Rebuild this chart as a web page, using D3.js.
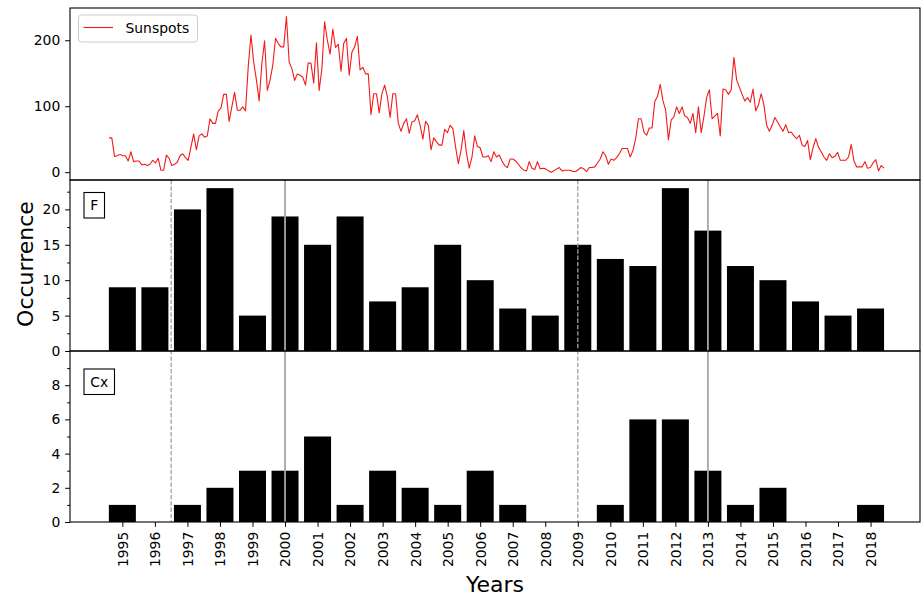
<!DOCTYPE html>
<html>
<head>
<meta charset="utf-8">
<script src="https://cdn.jsdelivr.net/npm/d3@7"></script>
<style>
  html, body { margin: 0; padding: 0; background: #fff; }
  svg { display: block; font-family: "DejaVu Sans", sans-serif; }
</style>
</head>
<body>
<script>
// ---------------- DATA ----------------
const years = [1995,1996,1997,1998,1999,2000,2001,2002,2003,2004,2005,2006,
               2007,2008,2009,2010,2011,2012,2013,2014,2015,2016,2017,2018];
const fCounts  = [9,9,20,23,5,19,15,19,7,9,15,10,6,5,15,13,12,23,17,12,10,7,5,6];
const cxCounts = [1,0,1,2,3,3,5,1,3,2,1,3,1,0,0,1,6,6,3,1,2,0,0,1];

// monthly sunspot number, first value = Feb 1995
const sunspotStartYear = 1995;
const sunspotStartMonth = 2;
const sunspots = [
  52,52,24,25,27,25,25,17,31,16,17,17,11,12,10,12,18,14,21,3,
  3,26,21,10,12,15,25,28,22,18,38,58,34,55,58,53,55,81,74,74,
  93,97,118,118,77,99,121,94,94,99,93,160,208,
  167,140,108,165,199,124,140,162,203,195,190,190,
  236,167,157,139,149,147,144,132,166,165,135,196,124,157,228,
  200,179,217,189,194,153,195,203,147,182,190,206,155,159,149,
  149,87,119,119,90,119,132,114,83,119,119,74,62,74,81,59,76,78,
  87,71,50,77,71,34,52,46,41,41,65,60,71,66,38,13,33,63,28,6,
  23,55,39,37,23,23,25,16,31,23,26,17,10,7,20,20,17,12,7,3,
  2,16,6,4,16,5,6,5,2,0,2,5,7,2,3,3,
  3,1,1,4,7,5,1,7,7,8,14,20,31,25,12,20,18,22,28,36,
  36,36,23,33,51,81,81,61,56,67,67,107,115,133,108,94,49,79,84,99,
  89,99,85,83,74,89,60,99,60,84,113,125,81,85,89,55,126,125,
  118,125,174,140,129,118,108,113,106,126,93,102,119,102,71,62,71,83,76,69,
  62,72,60,61,55,51,56,41,39,48,19,37,51,38,31,23,18,28,22,24,
  30,18,18,18,23,42,17,8,8,8,16,6,7,14,19,2,10,6
];

const cycleMinima = [1996.5, 2009];   // dashed
const cycleMaxima = [2000, 2013];     // solid

const topYTicks = [0, 100, 200];
const fTicks = [0, 5, 10, 15, 20];
const fMinorTicks = [2.5, 7.5, 12.5, 17.5, 22.5];
const cxTicks = [0, 2, 4, 6, 8];
const cxMinorTicks = [1, 3, 5, 7, 9];

// ---------------- LAYOUT ----------------
const W = 921, H = 596;
const L = 70, R = 920;
const topP = {y0: 8, y1: 180};
const midP = {y0: 180, y1: 351};
const botP = {y0: 351, y1: 522};
const FS = 13.9;
const majorLen = 4.86, minorLen = 2.8, pad = 4.86;

const svg = d3.select("body").append("svg").attr("width", W).attr("height", H);

// ---------------- SCALES ----------------
const xBar  = d3.scaleLinear().domain([1993.39, 2019.52]).range([L, R]);
const xTime = d3.scaleLinear().domain([1993.89, 2019.85]).range([L, R]);
const yTop = d3.scaleLinear().domain([-11.85, 248.9]).range([topP.y1, topP.y0]);
const yF   = d3.scaleLinear().domain([0, 24.15]).range([midP.y1, midP.y0]);
const yCx  = d3.scaleLinear().domain([0, 10]).range([botP.y1, botP.y0]);

const sunData = sunspots.map((v, k) => ({
  t: sunspotStartYear + (sunspotStartMonth - 1 + k) / 12, v
}));

// ---------------- TOP PANEL ----------------
svg.append("path")
  .datum(sunData)
  .attr("fill", "none")
  .attr("stroke", "#f21b1b")
  .attr("stroke-width", 1.1)
  .attr("stroke-linejoin", "round")
  .attr("d", d3.line().x(d => xTime(d.t)).y(d => yTop(d.v)));

// ---------------- BARS ----------------
const barW = xBar(1995.83) - xBar(1995);
function drawBars(counts, y) {
  svg.append("g").selectAll("rect")
    .data(years.map((yr, i) => ({yr, c: counts[i]})).filter(d => d.c > 0))
    .join("rect")
    .attr("x", d => xBar(d.yr) - barW / 2)
    .attr("width", barW)
    .attr("y", d => y(d.c))
    .attr("height", d => y(0) - y(d.c))
    .attr("fill", "#000");
}
drawBars(fCounts, yF);
drawBars(cxCounts, yCx);

// ---------------- VERTICAL CYCLE LINES ----------------
const vl = svg.append("g");
vl.selectAll("line.min").data(cycleMinima).join("line")
  .attr("x1", d => xBar(d)).attr("x2", d => xBar(d))
  .attr("y1", midP.y0).attr("y2", botP.y1)
  .attr("stroke", "#a0a0a0").attr("stroke-width", 1.3)
  .attr("stroke-dasharray", "4.4,1.9");
vl.selectAll("line.max").data(cycleMaxima).join("line")
  .attr("x1", d => xBar(d)).attr("x2", d => xBar(d))
  .attr("y1", midP.y0).attr("y2", botP.y1)
  .attr("stroke", "#a6a6a6").attr("stroke-width", 1.8);

// ---------------- AXES ----------------
function styleAxis(g) {
  g.select(".domain").remove();
  g.selectAll("line").attr("stroke", "#000").attr("stroke-width", 1);
  g.selectAll("text").attr("fill", "#000").style("font-size", FS + "px")
    .style("font-family", "DejaVu Sans");
}
function leftAxis(y, ticks, minor) {
  svg.append("g").attr("transform", `translate(${L},0)`)
    .call(d3.axisLeft(y).tickValues(ticks).tickSize(majorLen).tickPadding(pad).tickFormat(d3.format("d")))
    .call(styleAxis);
  if (minor) {
    svg.append("g").attr("transform", `translate(${L},0)`)
      .call(d3.axisLeft(y).tickValues(minor).tickSize(minorLen).tickFormat(""))
      .call(styleAxis);
  }
}
leftAxis(yTop, topYTicks, null);
leftAxis(yF, fTicks, fMinorTicks);
leftAxis(yCx, cxTicks, cxMinorTicks);

// bottom x axis
const xa = svg.append("g").attr("transform", `translate(0,${botP.y1})`)
  .call(d3.axisBottom(xBar).tickValues(years).tickSize(majorLen).tickFormat(d3.format("d")))
  .call(styleAxis);
xa.selectAll("text")
  .attr("transform", "rotate(-90)")
  .attr("x", -(majorLen + pad))
  .attr("y", 0)
  .attr("dy", "0.35em")
  .style("text-anchor", "end");

// ---------------- FRAMES ----------------
[topP, midP, botP].forEach(p => {
  svg.append("rect")
    .attr("x", L).attr("y", p.y0)
    .attr("width", R - L).attr("height", p.y1 - p.y0)
    .attr("fill", "none").attr("stroke", "#000").attr("stroke-width", 1.1);
});

// ---------------- LEGEND ----------------
const lg = svg.append("g");
lg.append("rect").attr("x", 78.5).attr("y", 15).attr("width", 119).attr("height", 27)
  .attr("rx", 3).attr("fill", "#fff").attr("fill-opacity", 0.8)
  .attr("stroke", "#cccccc").attr("stroke-width", 1);
lg.append("line").attr("x1", 83.5).attr("x2", 113).attr("y1", 27.5).attr("y2", 27.5)
  .attr("stroke", "#f21b1b").attr("stroke-width", 1.1);
lg.append("text").attr("x", 125.5).attr("y", 32.8)
  .style("font-size", FS + "px").text("Sunspots");

// ---------------- PANEL TAGS ----------------
function tag(x, y, w, h, label) {
  svg.append("rect").attr("x", x).attr("y", y).attr("width", w).attr("height", h)
    .attr("fill", "#fff").attr("stroke", "#000").attr("stroke-width", 1.1);
  svg.append("text").attr("x", x + w / 2).attr("y", y + h / 2)
    .attr("dy", "0.36em").attr("text-anchor", "middle")
    .style("font-size", FS + "px").text(label);
}
tag(84, 192.5, 20.5, 25.5, "F");
tag(84, 369, 30.5, 25.5, "Cx");

// ---------------- AXIS LABELS ----------------
svg.append("text")
  .attr("transform", `translate(33,264) rotate(-90)`)
  .attr("text-anchor", "middle")
  .style("font-size", "22px").text("Occurrence");
svg.append("text")
  .attr("x", (L + R) / 2).attr("y", 592)
  .attr("text-anchor", "middle")
  .style("font-size", "22px").text("Years");
</script>
</body>
</html>
